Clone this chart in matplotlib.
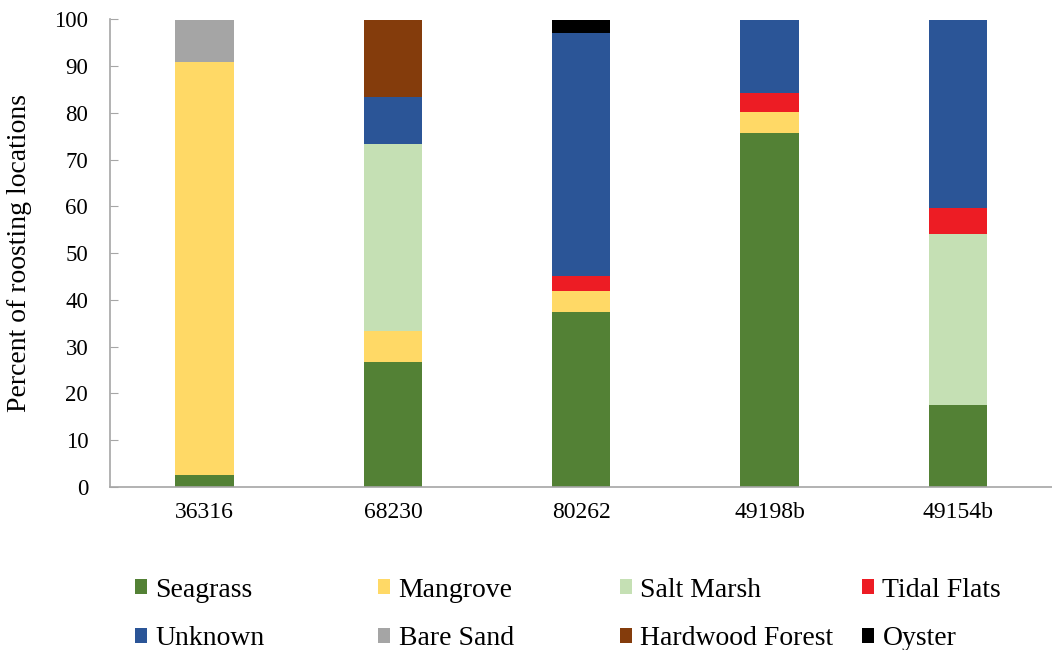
import matplotlib
matplotlib.use("Agg")
import matplotlib.pyplot as plt
from matplotlib.patches import Patch
from matplotlib.font_manager import FontProperties
import numpy as np

plt.rcParams['font.family'] = 'serif'
plt.rcParams['font.serif'] = ['Liberation Serif', 'DejaVu Serif']

birds = ['36316', '68230', '80262', '49198b', '49154b']
habitats = ['Seagrass', 'Mangrove', 'Salt Marsh', 'Tidal Flats',
            'Unknown', 'Bare Sand', 'Hardwood Forest', 'Oyster']
colors = ['#538135', '#FFD966', '#C5E0B4', '#ED1C24',
          '#2B5597', '#A5A5A5', '#843C0C', '#000000']

# percent of roosting locations per habitat, one value per bird
seagrass = [2.5, 26.7, 37.4, 75.7, 17.6]
mangrove = [88.3, 6.7, 4.6, 4.5, 0]
salt_marsh = [0, 40.0, 0, 0, 36.6]
tidal_flats = [0, 0, 3.1, 4.0, 5.5]
unknown = [0, 10.0, 52.0, 15.8, 40.3]
bare_sand = [9.2, 0, 0, 0, 0]
hardwood = [0, 16.6, 0, 0, 0]
oyster = [0, 0, 2.9, 0, 0]

series = [seagrass, mangrove, salt_marsh, tidal_flats,
          unknown, bare_sand, hardwood, oyster]

fig = plt.figure(figsize=(10.52, 6.5), dpi=100)
ax = fig.add_axes([0.105, 0.251, 0.895, 0.719])

x = np.arange(len(birds))
bottom = np.zeros(len(birds))
for vals, col, name in zip(series, colors, habitats):
    ax.bar(x, vals, width=0.31, bottom=bottom, color=col, label=name)
    bottom += np.array(vals)

ax.set_xlim(-0.5, 4.5)
ax.set_ylim(0, 100)
ax.set_yticks(range(0, 101, 10))
ax.set_xticks(x)
ax.set_xticklabels(birds)
ax.set_ylabel('Percent of roosting locations', fontsize=20)
ax.yaxis.set_label_coords(-0.083, 0.5)

for s in ['top', 'right']:
    ax.spines[s].set_visible(False)
for s in ['left', 'bottom']:
    ax.spines[s].set_color('#A6A6A6')
    ax.spines[s].set_linewidth(1.2)

ax.tick_params(axis='y', direction='in', length=6, color='#A6A6A6',
               labelsize=16.5, pad=16)
ax.tick_params(axis='x', length=0, labelsize=17, pad=11)

# legend laid out in 4 fixed columns, two rows
legend_font = FontProperties(family='Liberation Serif', size=20)
col_x = [0.128, 0.359, 0.589, 0.819]
for i in range(4):
    pair = [i, i + 4]
    handles = [Patch(facecolor=colors[j]) for j in pair]
    fig.legend(handles, [habitats[j] for j in pair], loc='upper left',
               bbox_to_anchor=(col_x[i], 0.111), frameon=False,
               prop=legend_font,
               handlelength=0.45, handleheight=0.45,
               handletextpad=0.3, labelspacing=0.85,
               borderpad=0, borderaxespad=0)

fig.savefig('out.png', dpi=100)
